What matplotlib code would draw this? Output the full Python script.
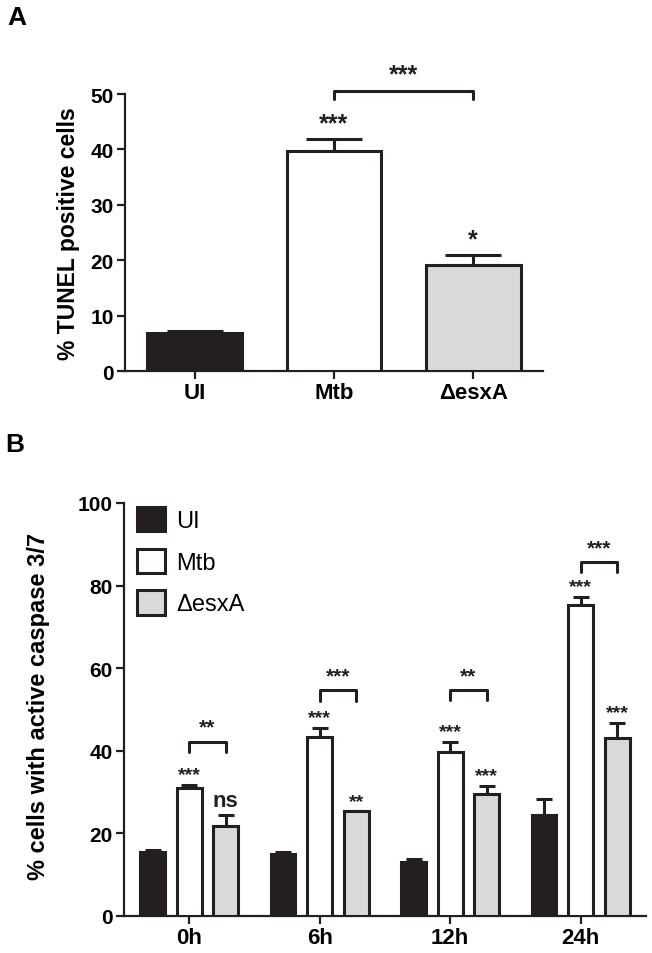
import numpy as np
import matplotlib
matplotlib.use('Agg')
import matplotlib.pyplot as plt

plt.rcParams['font.family'] = ['Liberation Sans Narrow', 'Liberation Sans', 'DejaVu Sans']

# panel A: TUNEL
groups_a = ['UI', 'Mtb', '\u0394esxA']
tunel = [6.9, 39.8, 19.2]
tunel_err = [0.3, 2.1, 1.8]
tunel_stars = ['', '***', '*']
bar_colors = ['#231f20', 'white', '#d8d9da']

# panel B: caspase 3/7
times = ['0h', '6h', '12h', '24h']
series = ['UI', 'Mtb', '\u0394esxA']
casp_ui = [15.6, 14.9, 13.1, 24.5]
casp_ui_err = [0.4, 0.6, 0.7, 3.8]
casp_mtb = [31.1, 43.4, 39.8, 75.3]
casp_mtb_err = [0.6, 2.1, 2.4, 2.0]
casp_esx = [21.8, 25.3, 29.5, 43.0]
casp_esx_err = [2.7, 0.0, 2.0, 3.7]
stars_ui = ['', '', '', '']
stars_mtb = ['***', '***', '***', '***']
stars_esx = ['ns', '**', '***', '***']
pair_stars = ['**', '***', '**', '***']
pair_level = [42.2, 54.6, 54.7, 85.7]

ink = '#231f20'
lw = 2.2


def bracket(ax, x1, x2, y, h, text, fs):
    ax.plot([x1, x1, x2, x2], [y - h, y, y, y - h], color=ink, lw=lw,
            solid_capstyle='round', solid_joinstyle='round', clip_on=False)
    ax.text((x1 + x2) / 2, y + h * 0.5, text, ha='center', va='bottom',
            fontsize=fs, weight='bold', color=ink, clip_on=False)


def style(ax, xfs):
    for s in ['top', 'right']:
        ax.spines[s].set_visible(False)
    for s in ['left', 'bottom']:
        ax.spines[s].set_linewidth(1.6)
        ax.spines[s].set_color(ink)
    ax.tick_params(width=1.6, length=6, color=ink, labelsize=15, pad=2)
    for lab in ax.get_yticklabels():
        lab.set_fontweight('bold')
    for lab in ax.get_xticklabels():
        lab.set_fontweight('bold')
        lab.set_fontsize(xfs)


fig = plt.figure(figsize=(6.52, 9.54), dpi=100)

# ---- A ----
axA = fig.add_axes([0.1917, 0.610, 0.641, 0.2904])
xa = np.arange(len(groups_a))
axA.errorbar(xa, tunel, yerr=[np.zeros(len(xa)), tunel_err], fmt='none',
             ecolor=ink, elinewidth=lw, capsize=20, capthick=lw, zorder=2)
axA.bar(xa, tunel, width=0.68, color=bar_colors, edgecolor=ink,
        linewidth=lw, zorder=3)
for x, v, e, s in zip(xa, tunel, tunel_err, tunel_stars):
    if s:
        axA.text(x, v + e + 0.6, s, ha='center', va='bottom', fontsize=18,
                 weight='bold', color=ink)
bracket(axA, 1, 2, 50.6, 1.5, '***', 18)
axA.set_xlim(-0.5, 2.5)
axA.set_ylim(0, 50)
axA.set_yticks(range(0, 51, 10))
axA.set_xticks(xa)
axA.set_xticklabels(groups_a)
axA.set_ylabel('% TUNEL positive cells', fontsize=16.5, weight='bold',
               family=['Liberation Sans', 'DejaVu Sans'])
axA.yaxis.set_label_coords(-0.108, 0.5)
style(axA, 16)

# ---- B ----
axB = fig.add_axes([0.190, 0.0388, 0.8006, 0.4329])
xb = np.arange(len(times))
off = 0.28
w = 0.19
data = [(casp_ui, casp_ui_err, stars_ui), (casp_mtb, casp_mtb_err, stars_mtb),
        (casp_esx, casp_esx_err, stars_esx)]
for i, (vals, errs, stars) in enumerate(data):
    pos = xb + (i - 1) * off
    axB.errorbar(pos, vals, yerr=[np.zeros(len(pos)), errs], fmt='none',
                 ecolor=ink, elinewidth=lw, capsize=5.5, capthick=lw, zorder=2)
    axB.bar(pos, vals, width=w, color=bar_colors[i], edgecolor=ink,
            linewidth=lw, zorder=3, label=series[i])
    for p, v, e, s in zip(pos, vals, errs, stars):
        if s == 'ns':
            axB.text(p, v + e + 0.8, s, ha='center', va='bottom', fontsize=16,
                     weight='bold', color=ink)
        elif s:
            axB.text(p, v + e + 0.4, s, ha='center', va='bottom', fontsize=14,
                     weight='bold', color=ink)
for x, y, s in zip(xb, pair_level, pair_stars):
    bracket(axB, x, x + off, y, 2.5, s, 15)

axB.set_xlim(-0.5, 3.5)
axB.set_ylim(0, 100)
axB.set_yticks(range(0, 101, 20))
axB.set_xticks(xb)
axB.set_xticklabels(times)
axB.set_ylabel('% cells with active caspase 3/7', fontsize=17, weight='bold',
               family=['Liberation Sans', 'DejaVu Sans'])
axB.yaxis.set_label_coords(-0.142, 0.51)
style(axB, 16)

leg = axB.legend(loc='upper left', bbox_to_anchor=(0.025, 0.99), frameon=False,
                 fontsize=17, handlelength=1.2, handleheight=1.2,
                 handletextpad=0.45, labelspacing=0.7, borderpad=0,
                 borderaxespad=0)

fig.text(17 / 652, 1 - 18 / 954, 'A', ha='center', va='center', fontsize=19,
         weight='bold', family=['Liberation Sans', 'DejaVu Sans'])
fig.text(15 / 652, 1 - 445 / 954, 'B', ha='center', va='center', fontsize=19,
         weight='bold', family=['Liberation Sans', 'DejaVu Sans'])

fig.savefig('out.png', dpi=100)
